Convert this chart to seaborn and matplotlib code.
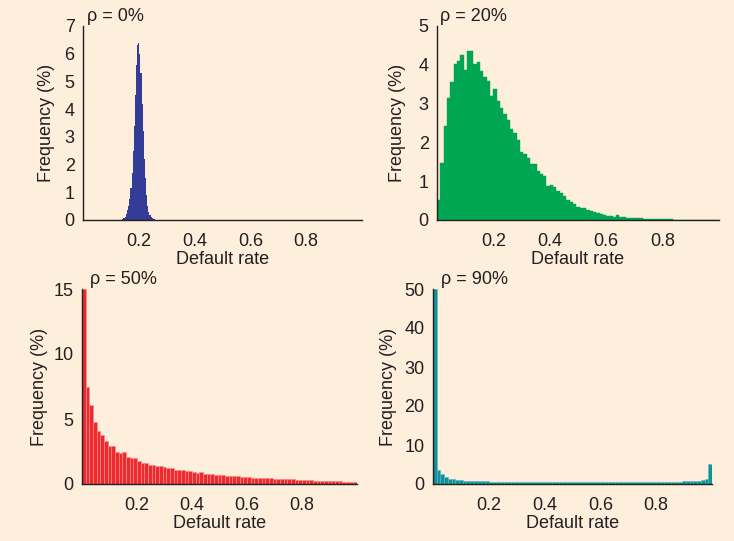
"""
Default-rate distributions for four asset correlations (rho = 0, 20, 50, 90 %).
Bar heights are read off the reference figure (frequency in % per bin).
"""

import matplotlib
matplotlib.use("Agg")
import matplotlib.pyplot as plt
import seaborn as sns
import numpy as np
import pandas as pd

# rho = 0 %: narrow peak around 0.2, 30 bins of width 0.004 starting at 0.138
RHO0_START, RHO0_STOP = 0.138, 0.258
RHO0_FREQ = [0.05, 0.06, 0.08, 0.12, 0.2, 0.35, 0.5, 0.75, 1.15, 1.7,
             2.5, 3.4, 4.5, 5.6, 6.3, 6.4, 6.0, 5.3, 4.2, 3.2,
             2.2, 1.5, 0.9, 0.5, 0.3, 0.18, 0.1, 0.07, 0.05, 0.03]

# rho = 20 %: 85 bins on [0, 1]
RHO20_FREQ = [0.51, 1.48, 2.42, 3.15, 3.56, 4.02, 4.09, 4.26, 3.86, 4.35,
              4.35, 4.03, 4.08, 3.84, 3.68, 3.57, 3.19, 3.38, 3.06, 2.89,
              2.72, 2.57, 2.34, 2.23, 2.06, 1.74, 1.70, 1.61, 1.44, 1.44,
              1.26, 1.18, 1.13, 0.88, 0.89, 0.85, 0.76, 0.69, 0.63, 0.51,
              0.47, 0.41, 0.34, 0.30, 0.30, 0.26, 0.24, 0.21, 0.17, 0.15,
              0.14, 0.11, 0.10, 0.09, 0.12, 0.08, 0.07, 0.05, 0.05, 0.04,
              0.04, 0.04, 0.03, 0.03, 0.03, 0.02, 0.02, 0.02, 0.02, 0.02,
              0.02, 0.01, 0.01, 0.01, 0.01, 0.0, 0.0, 0.0, 0.0, 0.0,
              0.0, 0.0, 0.0, 0.0, 0.0]

# rho = 50 %: 75 bins on [0, 1]
RHO50_FREQ = [15.0, 7.45, 6.1, 4.8, 4.1, 3.8, 3.3, 2.95, 2.95, 2.45,
              2.4, 2.45, 2.05, 2.0, 2.0, 1.75, 1.65, 1.65, 1.5, 1.45,
              1.4, 1.4, 1.3, 1.25, 1.2, 1.1, 1.1, 1.1, 1.0, 1.0,
              0.9, 0.85, 0.9, 0.8, 0.8, 0.75, 0.7, 0.7, 0.7, 0.65,
              0.65, 0.6, 0.6, 0.55, 0.55, 0.55, 0.5, 0.5, 0.5, 0.45,
              0.45, 0.45, 0.4, 0.4, 0.4, 0.35, 0.35, 0.35, 0.3, 0.3,
              0.3, 0.3, 0.3, 0.25, 0.25, 0.25, 0.25, 0.2, 0.2, 0.2,
              0.2, 0.15, 0.15, 0.15, 0.12]

# rho = 90 %: 75 bins on [0, 1]
RHO90_FREQ = [50.0, 3.7, 2.6, 1.8, 1.4, 1.2, 1.0, 0.95, 0.85, 0.8,
              0.75, 0.7, 0.7, 0.65, 0.65, 0.6, 0.6, 0.6, 0.6, 0.55,
              0.55, 0.55, 0.55, 0.55, 0.55, 0.5, 0.5, 0.5, 0.5, 0.5,
              0.5, 0.5, 0.5, 0.5, 0.5, 0.5, 0.5, 0.5, 0.5, 0.5,
              0.5, 0.5, 0.5, 0.5, 0.5, 0.5, 0.5, 0.5, 0.5, 0.5,
              0.5, 0.5, 0.5, 0.5, 0.5, 0.5, 0.5, 0.5, 0.5, 0.55,
              0.55, 0.55, 0.55, 0.55, 0.6, 0.6, 0.6, 0.65, 0.65, 0.7,
              0.75, 0.85, 1.0, 1.2, 5.1]

TITLES = ["ρ = 0%", "ρ = 20%", "ρ = 50%", "ρ = 90%"]
X_TICKS = [0.2, 0.4, 0.6, 0.8]
Y_TICKS = [[0, 1, 2, 3, 4, 5, 6, 7], [0, 1, 2, 3, 4, 5],
           [0, 5, 10, 15], [0, 10, 20, 30, 40, 50]]

BG = "#FDEFDC"
INK = "#231F20"
COLORS = ["#333D97", "#00A651", "#EE2A2E", "#0E939B"]
EDGES = ["#333D97", "#00A651", "#F58A8C", "#5DB8BD"]
EDGE_LW = [0, 0.3, 0.5, 0.4]

# axes rectangles in pixels: left, top, right, bottom
BOXES = [(83, 26, 362, 220), (437, 26, 719, 220),
         (82, 289, 357, 484), (433, 289, 712, 484)]
TITLE_DX = [4, 3, 8, 8]
YLABEL_X = [-0.10, -0.11, -0.125, -0.13]

W, H = 734, 541


def draw_panel(fig, i, edges, freq):
    """One histogram panel drawn from pre-binned frequencies."""
    l, t, r, b = BOXES[i]
    ax = fig.add_axes([l / W, 1 - b / H, (r - l) / W, (b - t) / H])
    ax.set_facecolor(BG)
    df = pd.DataFrame({"rate": (edges[:-1] + edges[1:]) / 2, "freq": freq})
    sns.histplot(data=df, x="rate", weights="freq", bins=list(edges), ax=ax,
                 color=COLORS[i], alpha=1, edgecolor=EDGES[i],
                 linewidth=EDGE_LW[i])

    ax.set_xlim(0, 1)
    ax.set_ylim(0, Y_TICKS[i][-1])
    ax.set_xticks(X_TICKS)
    ax.set_xticklabels([f"{v:.1f}" for v in X_TICKS])
    ax.set_yticks(Y_TICKS[i])
    ax.tick_params(axis="x", length=0, pad=9, labelsize=13, colors=INK)
    ax.tick_params(axis="y", length=4, width=1, pad=2, labelsize=13, colors=INK)
    for side in ("top", "right"):
        ax.spines[side].set_visible(False)
    for side in ("left", "bottom"):
        ax.spines[side].set_color(INK)
        ax.spines[side].set_linewidth(1.0)

    ax.set_xlabel("Default rate", fontsize=13, color=INK, labelpad=1)
    ax.set_ylabel("Frequency (%)", fontsize=13, color=INK)
    ax.yaxis.set_label_coords(YLABEL_X[i], 0.5)
    ax.text(TITLE_DX[i] / (r - l), 1 + 5 / (b - t), TITLES[i],
            transform=ax.transAxes, fontsize=13, color=INK,
            ha="left", va="baseline")
    return ax


def main():
    sns.set_style("white")
    plt.rcParams["font.family"] = ["Liberation Sans", "DejaVu Sans"]

    fig = plt.figure(figsize=(W / 100, H / 100), dpi=100)
    fig.patch.set_facecolor(BG)

    datasets = [
        (np.linspace(RHO0_START, RHO0_STOP, len(RHO0_FREQ) + 1), RHO0_FREQ),
        (np.linspace(0, 1, len(RHO20_FREQ) + 1), RHO20_FREQ),
        (np.linspace(0, 1, len(RHO50_FREQ) + 1), RHO50_FREQ),
        (np.linspace(0, 1, len(RHO90_FREQ) + 1), RHO90_FREQ),
    ]
    for i, (edges, freq) in enumerate(datasets):
        draw_panel(fig, i, edges, freq)

    fig.savefig("out.png", dpi=100, facecolor=BG)
    plt.close(fig)


if __name__ == "__main__":
    main()
